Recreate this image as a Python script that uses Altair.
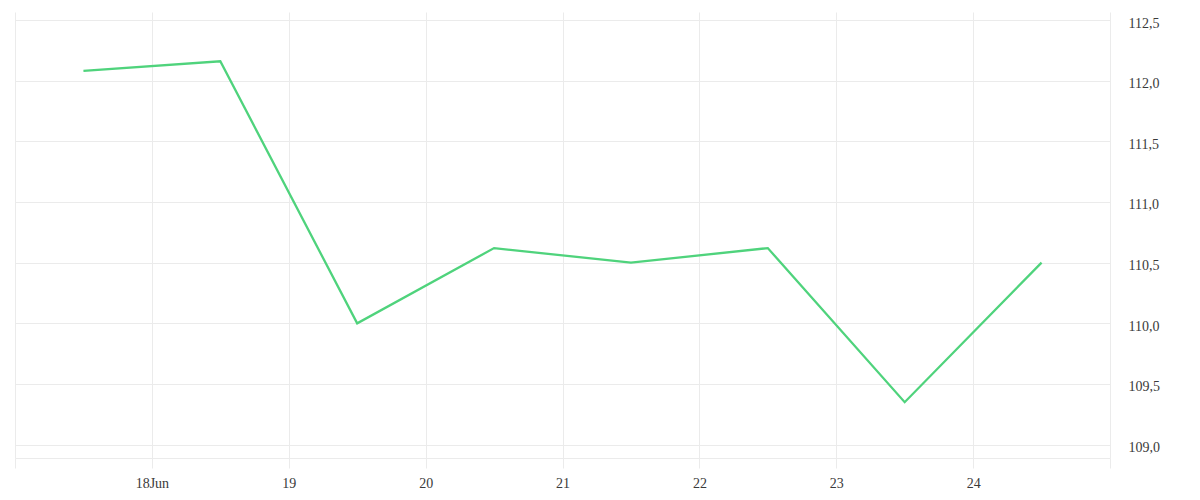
import altair as alt
import pandas as pd

dates = ["2024-06-17T12:00:00", "2024-06-18T12:00:00", "2024-06-19T12:00:00",
         "2024-06-20T12:00:00", "2024-06-21T12:00:00", "2024-06-22T12:00:00",
         "2024-06-23T12:00:00", "2024-06-24T12:00:00"]
values = [112.08, 112.16, 110.0, 110.62, 110.5, 110.62, 109.35, 110.5]
y_ticks = [109.0, 109.5, 110.0, 110.5, 111.0, 111.5, 112.0, 112.5]
x_ticks = [alt.DateTime(year=2024, month=6, date=d) for d in range(17, 26)]

df = pd.DataFrame({"date": dates, "value": values})

grid_color = "#ebebeb"
font = "Liberation Serif"

chart = alt.Chart(df).mark_line(color="#4fd37c", strokeWidth=2.3).encode(
    x=alt.X("date:T",
            scale=alt.Scale(domain=[alt.DateTime(year=2024, month=6, date=17),
                                    alt.DateTime(year=2024, month=6, date=25)]),
            axis=alt.Axis(values=x_ticks, title=None, grid=True, gridColor=grid_color,
                          tickColor=grid_color, tickSize=10, domainColor=grid_color,
                          labelFont=font, labelFontSize=14, labelColor="#3a3a3a",
                          labelPadding=8,
                          labelExpr="date(datum.value)==17 || date(datum.value)==25 ? '' : (date(datum.value)==18 ? timeFormat(datum.value,'%d%b') : timeFormat(datum.value,'%d'))")),
    y=alt.Y("value:Q",
            scale=alt.Scale(domain=[108.89, 112.566], nice=False, zero=False),
            axis=alt.Axis(orient="right", values=y_ticks, title=None, grid=True,
                          gridColor=grid_color, ticks=False, domain=False,
                          labelFont=font, labelFontSize=14, labelColor="#3a3a3a",
                          labelPadding=18, labelAlign="left", labelOffset=3,
                          labelExpr="replace(format(datum.value,'.1f'),'.',',')")),
).properties(
    width=1095, height=446,
    autosize=alt.AutoSizeParams(type="none"),
    padding={"left": 7, "top": 4, "right": 80, "bottom": 36},
).configure_view(strokeWidth=0)

chart.save("out.html", embed_options={"renderer": "svg", "actions": False})
